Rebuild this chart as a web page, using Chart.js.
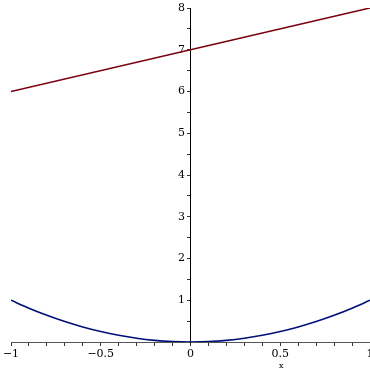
<!DOCTYPE html>
<html>
<head>
<meta charset="utf-8">
<script src="https://cdn.jsdelivr.net/npm/chart.js@4"></script>
<style>
  html, body { margin: 0; padding: 0; background: #fff; }
  #wrap { width: 370px; height: 370px; }
</style>
</head>
<body>
<div id="wrap"><canvas id="plot"></canvas></div>
<script>
// values
const lineX = [-1, 1];
const lineY = [6, 8];

const curveX = [-1, -0.9, -0.8, -0.7, -0.6, -0.5, -0.4, -0.3, -0.2, -0.1, 0,
                0.1, 0.2, 0.3, 0.4, 0.5, 0.6, 0.7, 0.8, 0.9, 1];
const curveY = [1, 0.81, 0.64, 0.49, 0.36, 0.25, 0.16, 0.09, 0.04, 0.01, 0,
                0.01, 0.04, 0.09, 0.16, 0.25, 0.36, 0.49, 0.64, 0.81, 1];

const axisLabel = 'x';

function toPoints(xs, ys) {
    return xs.map((x, i) => ({ x: x, y: ys[i] }));
}

// minus sign like the original (U+2212)
function fmt(v) {
    const s = String(Math.round(v * 10) / 10);
    return s.replace('-', '\u2212');
}

const axisFont = { family: 'DejaVu Serif', size: 11 };

// small "x" under the axis
const axisTitle = {
    id: 'axisTitle',
    afterDraw(chart) {
        const ctx = chart.ctx;
        const xs = chart.scales.x;
        ctx.save();
        ctx.font = '8px "DejaVu Serif"';
        ctx.fillStyle = '#000';
        ctx.textAlign = 'center';
        ctx.textBaseline = 'middle';
        ctx.fillText(axisLabel, xs.getPixelForValue(0.5) + 1, 366);
        ctx.restore();
    }
};

new Chart(document.getElementById('plot'), {
    type: 'scatter',
    data: {
        datasets: [{
            data: toPoints(lineX, lineY),
            showLine: true,
            borderColor: '#78000E',
            borderWidth: 1.6,
            pointRadius: 0
        }, {
            data: toPoints(curveX, curveY),
            showLine: true,
            borderColor: '#000E78',
            borderWidth: 1.6,
            pointRadius: 0,
            cubicInterpolationMode: 'monotone'
        }]
    },
    options: {
        responsive: true,
        maintainAspectRatio: false,
        animation: false,
        layout: { padding: { left: 11, top: 8, right: 0, bottom: 0 } },
        plugins: { legend: { display: false }, tooltip: { enabled: false } },
        scales: {
            x: {
                type: 'linear',
                position: 'bottom',
                min: -1,
                max: 1,
                afterFit(scale) {
                    scale.paddingLeft = 0;
                    scale.paddingRight = 0;
                    scale.height = 28;
                },
                border: { display: true, color: '#555', width: 1 },
                grid: { drawOnChartArea: false, drawTicks: true, tickLength: 4, color: '#333' },
                ticks: {
                    stepSize: 0.1,
                    autoSkip: false,
                    maxRotation: 0,
                    padding: 2,
                    color: '#000',
                    font: axisFont,
                    callback: function (v) {
                        const h = v * 2;
                        if (Math.abs(h - Math.round(h)) < 1e-6) return fmt(v);
                        return '';
                    }
                }
            },
            y: {
                type: 'linear',
                position: { x: 0 },
                min: 0,
                max: 8,
                afterFit(scale) {
                    scale.paddingTop = 0;
                    scale.paddingBottom = 0;
                },
                border: { display: true, color: '#000', width: 1 },
                grid: { drawOnChartArea: false, drawTicks: true, tickLength: 3, color: '#333' },
                ticks: {
                    stepSize: 0.5,
                    autoSkip: false,
                    padding: 3,
                    color: '#000',
                    font: axisFont,
                    callback: function (v) {
                        if (v === 0 || Math.abs(v - Math.round(v)) > 1e-6) return '';
                        // en space keeps the label clear of the tick mark
                        return fmt(v) + '\u2002';
                    }
                }
            }
        }
    },
    plugins: [axisTitle]
});
</script>
</body>
</html>
